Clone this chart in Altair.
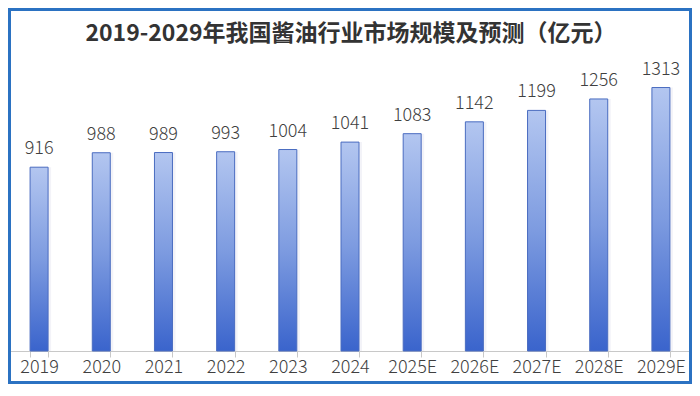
import altair as alt
import pandas as pd

years = ["2019", "2020", "2021", "2022", "2023", "2024",
         "2025E", "2026E", "2027E", "2028E", "2029E"]
values = [916, 988, 989, 993, 1004, 1041, 1083, 1142, 1199, 1256, 1313]
title_text = "2019-2029年我国酱油行业市场规模及预测（亿元）"

df = pd.DataFrame({"year": years, "value": values})

FONT = "Noto Sans CJK SC"
W, H = 684, 301
PAD_TOP, PAD_BOTTOM = 42, 33

x_enc = alt.X("year:N", sort=years, title=None,
              scale=alt.Scale(paddingInner=0.71, paddingOuter=0.355),
              axis=alt.Axis(labelAngle=0, labelFont=FONT, labelFontSize=18,
                            labelFontWeight=300,
                            labelColor="#404040", labelPadding=1,
                            domainColor="#c8c8c8", domainWidth=1,
                            tickColor="#c8c8c8", tickSize=6, tickBand="extent",
                            grid=False))
y_enc = alt.Y("value:Q", title=None, axis=None,
              scale=alt.Scale(domain=[0, 1500], nice=False))

base = alt.Chart(df).encode(x=x_enc, y=y_enc)

shadow = base.mark_bar(color="#9aa0c8", opacity=0.12, xOffset=3, size=18)

bars = base.mark_bar(
    size=18,
    stroke="#4a6cc0",
    strokeWidth=1,
    color=alt.Gradient(
        gradient="linear",
        stops=[alt.GradientStop(color="#b3c6f0", offset=0),
               alt.GradientStop(color="#7d9be0", offset=0.5),
               alt.GradientStop(color="#3a64cc", offset=1)],
        x1=0, x2=0, y1=0, y2=1,
    ),
)

labels = base.mark_text(baseline="alphabetic", dy=-13, font=FONT,
                        fontSize=18, fontWeight=300,
                        color="#404040").encode(text="value:Q")

title_df = pd.DataFrame({"t": [title_text]})
title = alt.Chart(title_df).mark_text(
    font=FONT, fontSize=23, fontWeight="bold", color="#333333",
    align="center", baseline="alphabetic",
).encode(text="t:N", x=alt.value(W / 2 + 1), y=alt.value(-9))

frame = alt.Chart(title_df).mark_rect(fill=None, stroke="#2b72c2", strokeWidth=3).encode(
    x=alt.value(1.5), x2=alt.value(W - 1.5),
    y=alt.value(-PAD_TOP + 1.5), y2=alt.value(H + PAD_BOTTOM - 1.5),
)

chart = alt.layer(shadow, bars, labels, title, frame).properties(
    width=W, height=H,
    autosize=alt.AutoSizeParams(type="none"),
    padding={"left": 0, "right": 0, "top": PAD_TOP, "bottom": PAD_BOTTOM},
).configure(background="white").configure_view(stroke=None)

chart.save("out.html", embed_options={"renderer": "svg", "actions": False})
